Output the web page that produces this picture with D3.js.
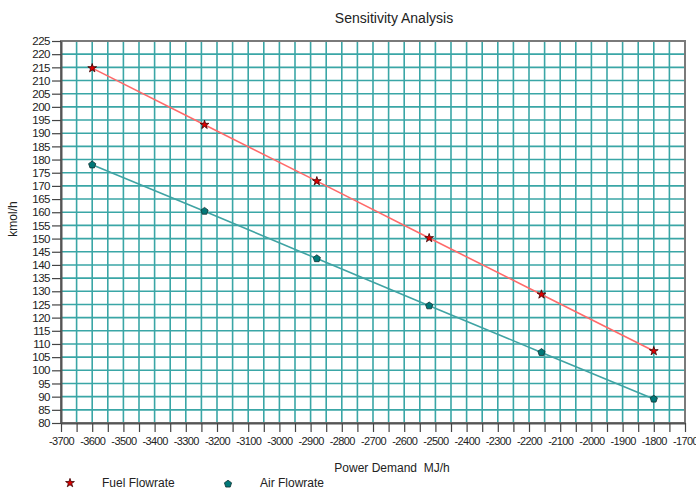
<!DOCTYPE html>
<html><head><meta charset="utf-8">
<script src="https://cdn.jsdelivr.net/npm/d3@7"></script>
<style>
html,body{margin:0;padding:0;background:#fff;}
svg{display:block;}
text{font-family:"Liberation Sans",Arial,sans-serif;fill:#222;}
</style></head>
<body>
<svg id="chart" width="696" height="489"></svg>
<script>
const powerDemand = [-3600, -3240, -2880, -2520, -2160, -1800];
const fuelFlowrate = [214.7, 193.2, 171.8, 150.2, 128.8, 107.3];
const airFlowrate = [178.0, 160.4, 142.4, 124.5, 106.8, 89.1];
const xTicks = d3.range(-3700, -1699, 100);
const yTicks = d3.range(80, 226, 5);
const seriesNames = ["Fuel Flowrate", "Air Flowrate"];
const titleText = "Sensitivity Analysis";
const xLabel = "Power Demand  MJ/h";
const yLabel = "kmol/h";

const svg = d3.select("#chart");
const L = 61, R = 685, T = 41, B = 423;
const x = d3.scaleLinear().domain([-3700, -1700]).range([L, R]);
const y = d3.scaleLinear().domain([80, 225]).range([B, T]);

const gridColor = "#3aa6a6";
svg.append("g").selectAll("line").data(d3.range(-3650, -1700, 50)).join("line")
  .attr("x1", d => x(d)).attr("x2", d => x(d)).attr("y1", T).attr("y2", B)
  .attr("stroke", gridColor).attr("stroke-width", 1.6);
svg.append("g").selectAll("line").data(d3.range(85, 225, 5)).join("line")
  .attr("x1", L).attr("x2", R).attr("y1", d => y(d)).attr("y2", d => y(d))
  .attr("stroke", gridColor).attr("stroke-width", 1.6);

svg.append("rect").attr("x", L).attr("y", T).attr("width", R - L).attr("height", B - T)
  .attr("fill", "none").attr("stroke", "#7a7a7a").attr("stroke-width", 2);

const xAxis = d3.axisBottom(x).tickValues(d3.range(-3700, -1699, 50))
  .tickFormat(d => (d % 100 === 0) ? String(d) : "").tickSize(9).tickSizeOuter(0);
const gx = svg.append("g").attr("transform", `translate(0,${B})`).call(xAxis);
gx.select(".domain").attr("stroke", "#555").attr("stroke-width", 2);
gx.selectAll(".tick line").attr("stroke", "#444").attr("stroke-width", 1.2);
gx.selectAll(".tick text").attr("font-size", 11).attr("letter-spacing", "-0.6px")
  .attr("dy", "0.9em").attr("y", 12).attr("fill", "#222");

const yAxis = d3.axisLeft(y).tickValues(yTicks).tickSize(9).tickSizeOuter(0).tickPadding(2);
const gy = svg.append("g").attr("transform", `translate(${L},0)`).call(yAxis);
gy.select(".domain").attr("stroke", "#555").attr("stroke-width", 2);
gy.selectAll(".tick line").attr("stroke", "#444").attr("stroke-width", 1.2);
gy.selectAll(".tick text").attr("font-size", 11.5).attr("letter-spacing", "-0.5px").attr("fill", "#222");

const fuelData = powerDemand.map((p, i) => [p, fuelFlowrate[i]]);
const airData = powerDemand.map((p, i) => [p, airFlowrate[i]]);
const line = d3.line().x(d => x(d[0])).y(d => y(d[1]));
svg.append("path").datum(fuelData).attr("d", line).attr("fill", "none").attr("stroke", "#ff6a6a").attr("stroke-width", 1.6);
svg.append("path").datum(airData).attr("d", line).attr("fill", "none").attr("stroke", "#3fa3a3").attr("stroke-width", 1.6);

const pentagonType = {
  draw(ctx, size) {
    const r = Math.sqrt(size / 2.378);
    for (let i = 0; i < 5; i++) {
      const a = i * 2 * Math.PI / 5;
      const px = r * Math.sin(a), py = -r * Math.cos(a);
      if (i === 0) ctx.moveTo(px, py); else ctx.lineTo(px, py);
    }
    ctx.closePath();
  }
};
const star = d3.symbol().type(d3.symbolStar).size(24);
const pent = d3.symbol().type(pentagonType).size(34);
svg.append("g").selectAll("path").data(fuelData).join("path")
  .attr("d", star).attr("transform", d => `translate(${x(d[0])},${y(d[1])})`)
  .attr("fill", "#e00000").attr("stroke", "#3a0000").attr("stroke-width", 0.8);
svg.append("g").selectAll("path").data(airData).join("path")
  .attr("d", pent).attr("transform", d => `translate(${x(d[0])},${y(d[1])})`)
  .attr("fill", "#007878").attr("stroke", "#103030").attr("stroke-width", 0.8);

svg.append("text").attr("x", 394).attr("y", 23).attr("text-anchor", "middle").attr("font-size", 14).text(titleText);
svg.append("text").attr("x", 392).attr("y", 472).attr("text-anchor", "middle").attr("font-size", 12)
  .style("white-space", "pre").text(xLabel);
svg.append("text").attr("transform", "translate(17,219) rotate(-90)").attr("text-anchor", "middle").attr("font-size", 12).text(yLabel);

svg.append("path").attr("d", star).attr("transform", "translate(70,483)")
  .attr("fill", "#e00000").attr("stroke", "#3a0000").attr("stroke-width", 0.8);
svg.append("text").attr("x", 102).attr("y", 487).attr("font-size", 12).text(seriesNames[0]);
svg.append("path").attr("d", pent).attr("transform", "translate(228,484)")
  .attr("fill", "#007878").attr("stroke", "#103030").attr("stroke-width", 0.8);
svg.append("text").attr("x", 260).attr("y", 487).attr("font-size", 12).text(seriesNames[1]);
</script>
</body></html>
